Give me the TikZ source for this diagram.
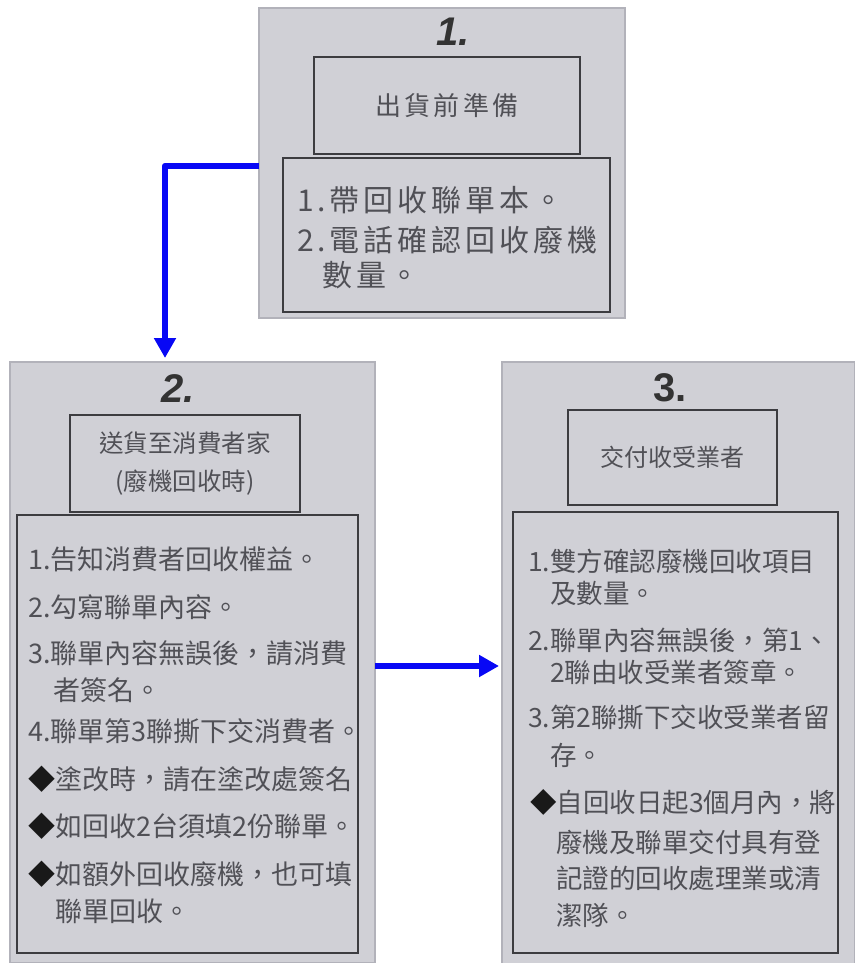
\documentclass[tikz,border=0pt]{standalone}
\usepackage{fontspec}
\setmainfont{Noto Sans CJK TC}
\newfontfamily\numfont{Liberation Sans}
\usetikzlibrary{arrows.meta}
\definecolor{paper}{RGB}{208,208,214}
\definecolor{paperedge}{RGB}{178,178,186}
\definecolor{ink}{RGB}{80,80,86}
\definecolor{frame}{RGB}{60,60,64}
\definecolor{arrowblue}{RGB}{8,8,245}
\newcommand{\blk}{\textcolor{black!90}{◆}}
\begin{document}
\begin{tikzpicture}[x=1pt,y=-1pt,
  panel/.style={fill=paper, draw=paperedge, line width=2pt, anchor=north west, inner sep=0pt, outer sep=0pt},
  frameboxnode/.style={draw=frame, line width=1.4pt, anchor=north west, inner sep=0pt, outer sep=0pt},
  headtext/.style={text=ink, align=center},
  bodyline/.style={anchor=west, inner sep=0pt, text=ink},
  fa/.style={font=\fontsize{30}{36}\selectfont\addfontfeature{LetterSpace=13}},
  fb/.style={font=\fontsize{27}{32}\selectfont},
  fc/.style={font=\fontsize{26.5}{32}\selectfont},
  numtitle/.style={text=black!80, inner sep=0pt},
  bluearrow/.style={draw=arrowblue, line width=6.5pt, line join=round,
    -{Triangle[width=21pt,length=20pt]}}
]
\useasboundingbox (0,0) rectangle (854,963);

% ---------- panel 1 ----------
\node[panel, minimum width=366pt, minimum height=310pt] (p1) at (259,8) {};
\node[numtitle, font=\numfont\bfseries\itshape\fontsize{40}{40}\selectfont] (n1) at (453,32) {1.};
\node[frameboxnode, minimum width=266pt, minimum height=97pt] (b1) at (314,57) {};
\node[headtext, font=\fontsize{26}{30}\selectfont\addfontfeature{LetterSpace=12}] (h1) at (b1.center) {出貨前準備};
\node[frameboxnode, minimum width=327pt, minimum height=154pt] (l1) at (283,158) {};
\node[bodyline, fa] (t1a) at (297,200) {1.帶回收聯單本。};
\node[bodyline, fa] (t1b) at (297,240) {2.電話確認回收廢機};
\node[bodyline, fa] (t1c) at (322,275) {數量。};

% ---------- panel 2 ----------
\node[panel, minimum width=365pt, minimum height=601pt] (p2) at (10,362) {};
\node[numtitle, font=\numfont\bfseries\itshape\fontsize{40}{40}\selectfont] (n2) at (178,389) {2.};
\node[frameboxnode, minimum width=230pt, minimum height=97pt] (b2) at (70,415) {};
\node[headtext, font=\fontsize{24.5}{38}\selectfont] (h2) at (b2.center) {送貨至消費者家\\(廢機回收時)};
\node[frameboxnode, minimum width=341pt, minimum height=438pt] (l2) at (17,515) {};
\node[bodyline, fb] (t2a) at (28,559) {1.告知消費者回收權益。};
\node[bodyline, fb] (t2b) at (28,607) {2.勾寫聯單內容。};
\node[bodyline, fb] (t2c) at (28,653) {3.聯單內容無誤後，請消費};
\node[bodyline, fb] (t2d) at (53,690) {者簽名。};
\node[bodyline, fb] (t2e) at (28,731) {4.聯單第3聯撕下交消費者。};
\node[bodyline, fb] (t2f) at (28,779) {\blk 塗改時，請在塗改處簽名};
\node[bodyline, fb] (t2g) at (28,826) {\blk 如回收2台須填2份聯單。};
\node[bodyline, fb] (t2h) at (28,874) {\blk 如額外回收廢機，也可填};
\node[bodyline, fb] (t2i) at (55,911) {聯單回收。};

% ---------- panel 3 ----------
\node[panel, minimum width=353pt, minimum height=602pt] (p3) at (502,362) {};
\node[numtitle, font=\numfont\bfseries\fontsize{40}{40}\selectfont] (n3) at (670,388) {3.};
\node[frameboxnode, minimum width=209pt, minimum height=95pt] (b3) at (568,410) {};
\node[headtext, font=\fontsize{24}{30}\selectfont] (h3) at (b3.center) {交付收受業者};
\node[frameboxnode, minimum width=325pt, minimum height=441pt] (l3) at (513,512) {};
\node[bodyline, fc] (t3a) at (528,561) {1.雙方確認廢機回收項目};
\node[bodyline, fc] (t3b) at (550,594) {及數量。};
\node[bodyline, fc] (t3c) at (528,640) {2.聯單內容無誤後，第1、};
\node[bodyline, fc] (t3d) at (550,672) {2聯由收受業者簽章。};
\node[bodyline, fc] (t3e) at (528,717) {3.第2聯撕下交收受業者留};
\node[bodyline, fc] (t3f) at (550,755) {存。};
\node[bodyline, fc] (t3g) at (530,802) {\blk 自回收日起3個月內，將};
\node[bodyline, fc] (t3h) at (556,842) {廢機及聯單交付具有登};
\node[bodyline, fc] (t3i) at (556,878) {記證的回收處理業或清};
\node[bodyline, fc] (t3j) at (556,915) {潔隊。};

% ---------- connectors ----------
\coordinate (bend) at (165,166);
\coordinate (hrow) at (375,666);
\draw[bluearrow, shorten >=4pt] (p1.west |- bend) -- (bend) -- (bend |- p2.north);
\draw[bluearrow, shorten >=3pt] (p2.east |- hrow) -- (p3.west |- hrow);
\end{tikzpicture}
\end{document}
